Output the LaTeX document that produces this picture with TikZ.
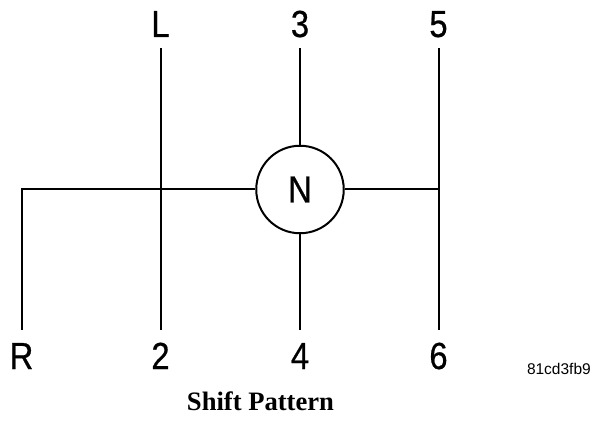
\documentclass[tikz,border=0pt]{standalone}
\usepackage{fontspec}
\newfontfamily\labfont[FakeStretch=0.87,FakeBold=0.6]{Liberation Sans}
\newfontfamily\tagfont{Liberation Sans}
\newfontfamily\capfont{Liberation Serif}
\begin{document}
\begin{tikzpicture}[x=1pt,y=1pt,
  line width=2pt,
  gear/.style={font=\labfont\fontsize{37.7}{40}\selectfont, inner sep=0pt, anchor=base},
  neutral/.style={circle, draw, minimum size=87.5pt, inner sep=0pt, font=\labfont\fontsize{37.7}{40}\selectfont},
  tagtext/.style={font=\tagfont\fontsize{15.5}{17}\selectfont, inner sep=0pt, anchor=base west},
  captext/.style={font=\capfont\bfseries\fontsize{26.6}{28}\selectfont, inner sep=0pt, anchor=base}]
\useasboundingbox (0,0) rectangle (593,420);
% gear labels
\node[gear] (L) at (160.5,383) {L};
\node[gear] (g3) at (300,383) {3};
\node[gear] (g5) at (438.5,383) {5};
\node[gear] (R) at (21.5,51) {R};
\node[gear] (g2) at (160.5,51) {2};
\node[gear] (g4) at (300,51) {4};
\node[gear] (g6) at (438.5,51) {6};
% neutral
\node[neutral] (N) at (300,230.5) {N};
% line ends
\coordinate (Ltop) at (160.5,371.5);
\coordinate (Lbot) at (160.5,90);
\coordinate (t3) at (300,371.5);
\coordinate (b4) at (300,90);
\coordinate (t5) at (438.5,371.5);
\coordinate (b6) at (438.5,90);
\coordinate (bR) at (21.5,90);
\coordinate (J5) at (438.5,230.5);
% connectors
\draw (Ltop) -- (Lbot);
\draw (t5) -- (b6);
\draw (t3) -- (N);
\draw (N) -- (b4);
\draw (bR) |- (N);
\draw (N) -- (J5);
% texts
\node[tagtext] (tag) at (526,46) {81cd3fb9};
\node[captext] (cap) at (260.5,10) {Shift Pattern};
\end{tikzpicture}
\end{document}
